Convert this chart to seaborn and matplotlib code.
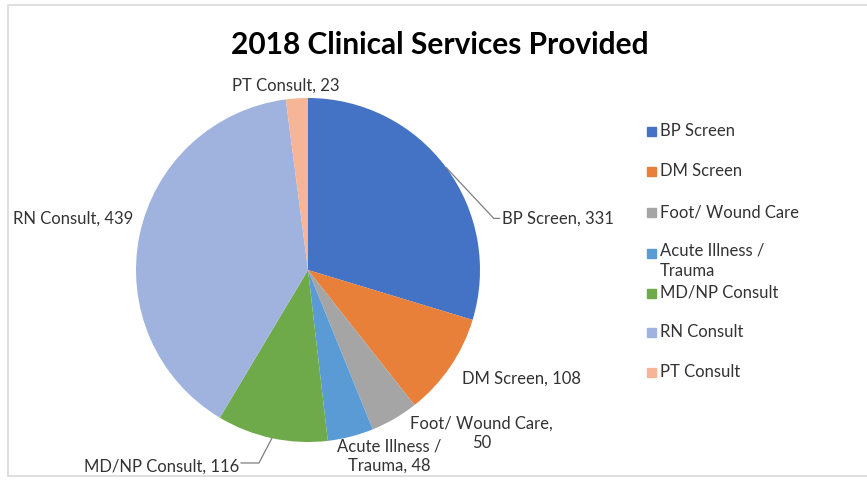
import numpy as np
import matplotlib
matplotlib.use("Agg")
import matplotlib.pyplot as plt
import seaborn as sns
from matplotlib.patches import Rectangle
from matplotlib.lines import Line2D

# 2018 clinical services
services = ["BP Screen", "DM Screen", "Foot/ Wound Care", "Acute Illness / Trauma",
            "MD/NP Consult", "RN Consult", "PT Consult"]
counts = [331, 108, 50, 48, 116, 439, 23]
legend_labels = ["BP Screen", "DM Screen", "Foot/ Wound Care", "Acute Illness /\nTrauma",
                 "MD/NP Consult", "RN Consult", "PT Consult"]
colors = ["#4472C4", "#E8803A", "#A5A5A5", "#5B9BD5", "#6FAA4A", "#A0B3DE", "#F6B596"]

sns.set_theme(style="white")
plt.rcParams['font.family'] = ['Lato', 'DejaVu Sans']

fig = plt.figure(figsize=(8.67, 4.8), dpi=100)
ax = fig.add_axes([136 / 867, 38 / 480, 344 / 867, 344 / 480])

wedges, _ = ax.pie(counts, colors=colors, startangle=90, counterclock=False,
                   radius=1, wedgeprops=dict(linewidth=0))
ax.set_xlim(-1, 1)
ax.set_ylim(-1, 1)
ax.set_aspect("equal")
ax.axis("off")

fs = 12
txt = "#333333"

# mid angles for leader lines
ang = 90 - (np.cumsum(counts) - np.array(counts) / 2) / sum(counts) * 360
rad = np.deg2rad(ang)


def lab(i, x, y, ha="center", text=None):
    s = text if text is not None else f"{services[i]}, {counts[i]}"
    ax.text(x, y, s, ha=ha, va="center", fontsize=fs, color=txt, clip_on=False,
            linespacing=1.2)


# BP Screen with leader
ex, ey = np.cos(rad[0]), np.sin(rad[0])
ax.plot([ex, 1.08, 1.115], [ey, 0.30, 0.30], color="#7f7f7f", lw=0.9, clip_on=False)
lab(0, 1.13, 0.30, ha="left")
lab(1, 1.24, -0.634)
lab(2, 1.01, -0.95, text="Foot/ Wound Care,\n50")
lab(3, 0.47, -1.083, text="Acute Illness /\nTrauma, 48")
# MD/NP with leader
ex, ey = np.cos(rad[4]), np.sin(rad[4])
ax.plot([ex, -0.285, -0.39], [ey, -1.122, -1.122], color="#7f7f7f", lw=0.9, clip_on=False)
lab(4, -0.40, -1.145, ha="right")
lab(5, -1.017, 0.297, ha="right")
lab(6, -0.128, 1.07)

fig.text(440 / 867, 1 - 45 / 480, "2018 Clinical Services Provided", ha="center",
         va="center", fontsize=21.5, fontweight="bold", color="black")

# legend
rows = [131, 171, 212, 253, 293, 332, 372]
for lbl, c, ry in zip(legend_labels, colors, rows):
    fig.add_artist(Rectangle((647 / 867, 1 - (ry + 5) / 480), 9 / 867, 9 / 480,
                             transform=fig.transFigure, color=c))
    if "\n" in lbl:
        fig.text(660 / 867, 1 - (ry - 10) / 480, lbl, ha="left", va="top", fontsize=fs,
                 color=txt, linespacing=1.3)
    else:
        fig.text(660 / 867, 1 - ry / 480, lbl, ha="left", va="center", fontsize=fs,
                 color=txt)

# frame of the chart area
fig.add_artist(Line2D([8 / 867, 8 / 867, 1.0], [1 - 476 / 480, 1 - 5 / 480, 1 - 5 / 480],
                      transform=fig.transFigure, color="#d9d9d9", lw=1.2))
fig.add_artist(Line2D([8 / 867, 1.0], [1 - 476 / 480, 1 - 476 / 480],
                      transform=fig.transFigure, color="#d9d9d9", lw=1.2))

fig.savefig("out.png", dpi=100)
